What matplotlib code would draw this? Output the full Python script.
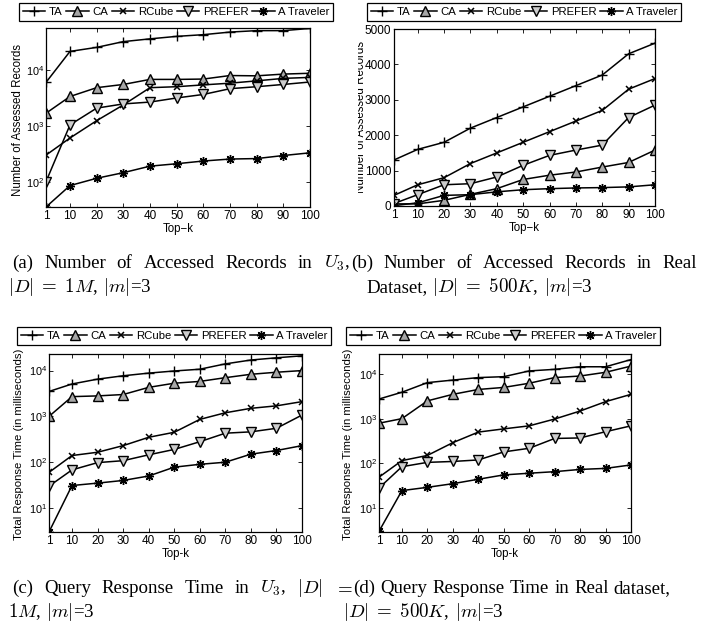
import matplotlib
matplotlib.use("Agg")
import matplotlib.pyplot as plt
from matplotlib.transforms import Bbox

W, H = 717, 625
plt.rcParams['font.family'] = ['Liberation Sans', 'DejaVu Sans']

# data
topk = [1, 10, 20, 30, 40, 50, 60, 70, 80, 90, 100]
names = ['TA', 'CA', 'RCube', 'PREFER', 'A Traveler']

# (a) accessed records, U3
a_ta = [6100, 22000, 26000, 33000, 37000, 41000, 44000, 49000, 52000, 52000, 57000]
a_ca = [1700, 3400, 4900, 5600, 6900, 6900, 7000, 8100, 8000, 8600, 8900]
a_rcube = [300, 610, 1250, 2400, 4900, 5100, 5500, 5900, 6500, 7200, 7500]
a_prefer = [100, 1050, 2100, 2500, 2700, 3200, 3700, 4700, 5100, 5600, 6200]
a_traveler = [35, 85, 115, 145, 190, 210, 235, 255, 260, 295, 330]

# (b) accessed records, real dataset
b_ta = [1300, 1600, 1800, 2200, 2500, 2800, 3100, 3400, 3700, 4300, 4600]
b_ca = [60, 60, 160, 330, 490, 750, 870, 960, 1100, 1230, 1580]
b_rcube = [300, 600, 800, 1200, 1500, 1800, 2100, 2400, 2700, 3300, 3600]
b_prefer = [70, 320, 600, 630, 820, 1150, 1430, 1580, 1720, 2500, 2850]
b_traveler = [10, 90, 300, 320, 400, 460, 490, 510, 520, 540, 600]

# (c) response time, U3
c_ta = [3500, 5100, 6500, 7700, 8800, 9800, 10700, 14000, 17000, 19000, 21000]
c_ca = [1000, 2700, 2800, 3000, 4300, 5300, 5800, 7000, 8300, 9200, 10000]
c_rcube = [60, 140, 165, 230, 350, 450, 860, 1200, 1500, 1700, 2100]
c_prefer = [30, 68, 98, 108, 145, 190, 280, 430, 460, 550, 1070]
c_traveler = [3, 31, 35, 40, 50, 78, 90, 100, 150, 180, 230]

# (d) response time, real dataset
d_ta = [2750, 3900, 6400, 7300, 8300, 8700, 11700, 12700, 14500, 14500, 21000]
d_ca = [790, 1000, 2500, 3500, 4500, 5000, 6200, 8300, 9000, 10900, 15000]
d_rcube = [49, 115, 150, 290, 500, 590, 690, 980, 1480, 2400, 3500]
d_prefer = [28, 84, 105, 110, 119, 180, 217, 360, 370, 510, 690]
d_traveler = [3, 24.5, 29, 35, 44, 55, 60, 65, 73, 77, 92]

styles = [
    dict(marker='+', ms=7, mew=1.0, mfc='none'),
    dict(marker='^', ms=7, mew=1.0, mfc='0.65'),
    dict(marker='x', ms=4.5, mew=1.1),
    dict(marker='v', ms=7, mew=1.0, mfc='0.8'),
    dict(marker=(8, 2, 0), ms=6.5, mew=1.0),
]

fig = plt.figure(figsize=(W / 100, H / 100), dpi=100)


def px_axes(l, r, t, b):
    return fig.add_axes([l / W, 1 - b / H, (r - l) / W, (b - t) / H])


def panel(box, series, ylog, ylim, xlab, leg_xy):
    ax = px_axes(*box)
    for name, ys, st in zip(names, series, styles):
        ax.plot(topk, ys, color='black', lw=1.1, mec='black', label=name, **st)
    if ylog:
        ax.set_yscale('log')
        ax.minorticks_off()
    ax.set_ylim(*ylim)
    ax.set_xlim(1, 100)
    ax.set_xticks(topk)
    ax.tick_params(direction='in', top=True, right=True, length=3, width=0.6,
                   labelsize=8.5, pad=2)
    if ylog:
        ax.tick_params(axis='y', labelsize=7.8, pad=1.5)
    for s in ax.spines.values():
        s.set_linewidth(0.9)
    ax.set_xlabel(xlab, fontsize=8.3, labelpad=1)
    leg = ax.legend(loc='center', bbox_to_anchor=(leg_xy[0] / W, 1 - leg_xy[1] / H),
                    bbox_transform=fig.transFigure, ncol=5, fontsize=8.2,
                    frameon=True, fancybox=False, edgecolor='black', framealpha=1,
                    handlelength=2.0, handletextpad=0.3, columnspacing=0.3,
                    borderpad=0.35, borderaxespad=0)
    leg.get_frame().set_linewidth(0.9)
    return ax


panel((46, 310, 28, 207), [a_ta, a_ca, a_rcube, a_prefer, a_traveler], True,
      (35, 58000), 'Top\u2212k', (176, 12))
panel((394, 655, 29, 206), [b_ta, b_ca, b_rcube, b_prefer, b_traveler], False,
      (0, 5000), 'Top\u2212k', (524, 12))
panel((49, 302, 354, 532), [c_ta, c_ca, c_rcube, c_prefer, c_traveler], True,
      (3, 23000), 'Top-k', (174, 336))
panel((379, 631, 354, 532), [d_ta, d_ca, d_rcube, d_prefer, d_traveler], True,
      (2.9, 28000), 'Top-k', (503, 336))

# y labels
fig.text(18 / W, 1 - 120 / H, 'Number of Assessed Records', rotation=90,
         ha='center', va='center', fontsize=8.3)
tb = fig.text(361 / W, 1 - 117 / H, 'Number of Assessed Records', rotation=90,
              ha='center', va='center', fontsize=8.3)
tb.set_clip_box(Bbox([[358, 0], [W, H]]))
tb.set_clip_on(True)
fig.text(19 / W, 1 - 444 / H, 'Total Response Time (in milliseconds)', rotation=90,
         ha='center', va='center', fontsize=8.2)
fig.text(348 / W, 1 - 444 / H, 'Total Response Time (in milliseconds)', rotation=90,
         ha='center', va='center', fontsize=8.2)

# captions, justified word by word
renderer = fig.canvas.get_renderer()
cap_kw = dict(fontsize=13.6, family='Liberation Serif', math_fontfamily='cm',
              va='baseline', ha='left')


def caption(words, x0, x1, base, justify=True):
    ts = [fig.text(x0 / W, 1 - base / H, w, **cap_kw) for w in words]
    widths = [t.get_window_extent(renderer).width for t in ts]
    if justify and len(ts) > 1:
        gap = (x1 - x0 - sum(widths)) / (len(ts) - 1)
    else:
        gap = 5.2
    x = x0
    for t, w in zip(ts, widths):
        t.set_x(x / W)
        x += w + gap


caption(['(a)', 'Number', 'of', 'Accessed', 'Records', 'in', '$U_3$,'], 12, 350, 268)
caption(['(b)', 'Number', 'of', 'Accessed', 'Records', 'in', 'Real'], 351, 697, 268)
caption([r'$|D|\;=\;1M$,', '$|m|$=3'], 8, 0, 292, justify=False)
caption(['Dataset,', r'$|D|\;=\;500K$,', '$|m|$=3'], 366, 0, 292, justify=False)
caption(['(c)', 'Query', 'Response', 'Time', 'in', '$U_3$,', '$|D|$', '$=$'], 12, 353, 593)
caption(['(d)', 'Query', 'Response', 'Time', 'in', 'Real', 'dataset,'], 353, 0, 593,
        justify=False)
caption(['$1M$,', '$|m|$=3'], 8, 0, 617, justify=False)
caption([r'$|D|\;=\;500K$,', '$|m|$=3'], 343, 0, 617, justify=False)

fig.savefig('out.png', dpi=100)
